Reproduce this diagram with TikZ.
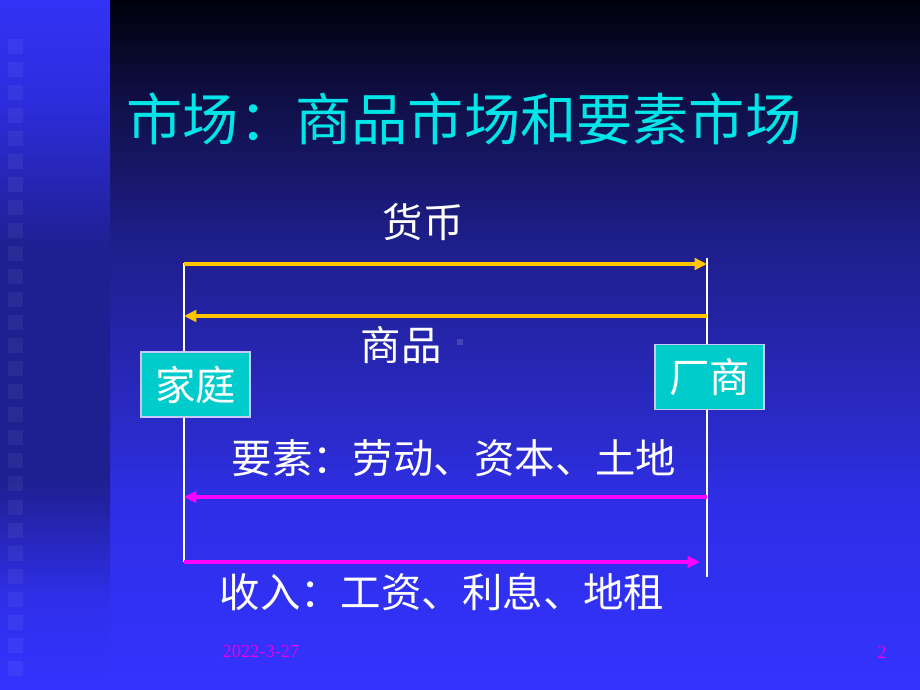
\documentclass[tikz,border=0pt]{standalone}
\usepackage{fontspec}
\setmainfont{Liberation Serif}
\newfontfamily\cjk{Noto Sans CJK SC}
\usetikzlibrary{arrows.meta}

\definecolor{m0}{RGB}{51,51,255}
\definecolor{m1}{RGB}{46,46,230}
\definecolor{m2}{RGB}{43,43,205}
\definecolor{m3}{RGB}{30,30,138}
\definecolor{m4}{RGB}{15,15,70}
\definecolor{m5}{RGB}{0,0,12}
\definecolor{s0}{RGB}{51,51,255}
\definecolor{s1}{RGB}{47,47,235}
\definecolor{s2}{RGB}{31,31,145}
\definecolor{s3}{RGB}{45,45,222}
\definecolor{s4}{RGB}{50,50,245}
\definecolor{titlecyan}{RGB}{0,230,232}
\definecolor{boxcyan}{RGB}{0,204,204}
\definecolor{boxline}{RGB}{200,200,255}
\definecolor{gold}{RGB}{255,198,0}
\definecolor{pink}{RGB}{255,0,255}
\definecolor{datepink}{RGB}{230,0,230}

\pgfdeclareverticalshading{mainbg}{100bp}{color(0bp)=(m0); color(25bp)=(m0); color(38.8bp)=(m1); color(43.1bp)=(m2); color(57.6bp)=(m3); color(67.8bp)=(m4); color(75bp)=(m5); color(100bp)=(m5)}
\pgfdeclareverticalshading{stripbg}{100bp}{color(0bp)=(s0); color(25bp)=(s0); color(31.5bp)=(s1); color(40.2bp)=(s2); color(56.9bp)=(s2); color(67.8bp)=(s3); color(75bp)=(s4); color(100bp)=(s4)}

\begin{document}
\begin{tikzpicture}[x=0.02cm, y=-0.02cm, thick,
    box/.style={draw=boxline, line width=0.6pt, fill=boxcyan, text=white, inner sep=0pt, minimum width=2.18cm, minimum height=1.3cm, font=\cjk\fontsize{23}{23}\selectfont},
    lab/.style={text=white, inner sep=0pt, font=\cjk\fontsize{23}{23}\selectfont},
    rail/.style={draw=white, line width=1.5pt},
    goods/.style={draw=gold, line width=2pt, -{Triangle[length=7pt, width=6.5pt]}},
    factor/.style={draw=pink, line width=1.8pt, -{Triangle[length=7pt, width=6.5pt]}},
    sq/.style={fill=white, opacity=0.05}]

    \useasboundingbox (0,0) rectangle (920,690);
    \shade[shading=mainbg] (110,0) rectangle (920,690);
    \shade[shading=stripbg] (0,0) rectangle (110,690);
    \foreach \i in {0,...,27}
        \fill[sq] (8,38.5+23.05*\i) rectangle +(15,15);

    \node[text=titlecyan, inner sep=0pt, font=\cjk\fontsize{32}{32}\selectfont] (title) at (464,119) {市场：商品市场和要素市场};

    % ends of the two rails and of the flows
    \coordinate (htop) at (184,263);
    \coordinate (hbot) at (184,562);
    \coordinate (ftop) at (707,258);
    \coordinate (fbot) at (707,577);
    \coordinate (h1) at (184,264);
    \coordinate (f1) at (707,264);
    \coordinate (h2) at (184,316);
    \coordinate (f2) at (707,316);
    \coordinate (h3) at (184,497);
    \coordinate (f3) at (707,497);
    \coordinate (h4) at (184,562);
    \coordinate (f4) at (700,562);

    \path
        (htop) edge[rail] (hbot)
        (ftop) edge[rail] (fbot)
        (h1) edge[goods] (f1)
        (f2) edge[goods] (h2)
        (f3) edge[factor] (h3)
        (h4) edge[factor] (f4)
        ;

    \node[box] (home) at (195.5,384.5) {家庭};
    \node[box] (firm) at (709.5,377) {厂商};

    \node[lab] (money) at (423,222) {货币};
    \node[lab] (goodslab) at (401,345) {商品};
    \fill[fill=white, opacity=0.15] (457,339) rectangle (463,345);
    \node[lab] (factorlab) at (454,458) {要素：劳动、资本、土地};
    \node[lab] (incomelab) at (442,592) {收入：工资、利息、地租};

    \node[text=datepink, inner sep=0pt, font=\fontsize{10.5}{10.5}\selectfont] (date) at (261,651.5) {2022-3-27};
    \node[text=datepink, inner sep=0pt, font=\fontsize{10.5}{10.5}\selectfont] (page) at (882,652) {2};
\end{tikzpicture}
\end{document}
